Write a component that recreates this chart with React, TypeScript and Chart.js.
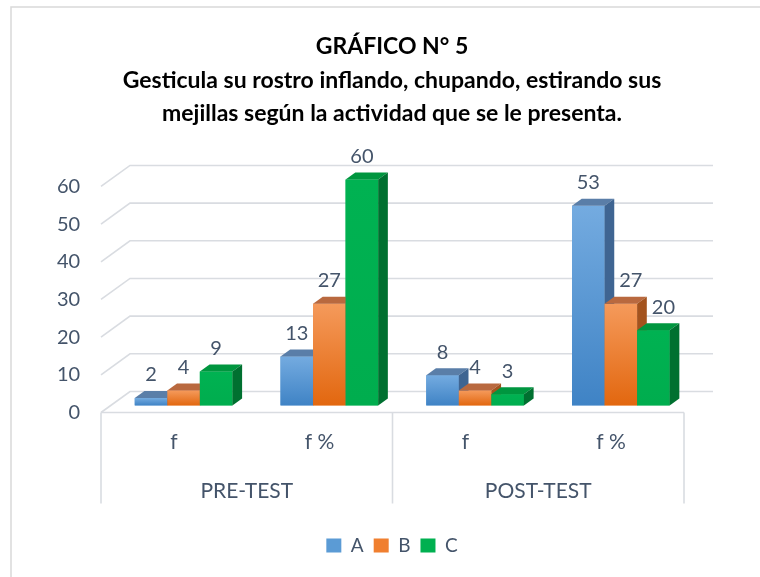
import React, { useEffect, useRef } from 'react';
import { Chart, registerables } from 'chart.js';

Chart.register(...registerables);

const titleLines = [
  'GRÁFICO N° 5',
  'Gesticula su rostro inflando, chupando, estirando sus',
  'mejillas según la actividad que se le presenta.',
];
const categories = ['f', 'f %', 'f', 'f %'];
const groups = ['PRE-TEST', 'POST-TEST'];
const seriesNames = ['A', 'B', 'C'];
const valuesA = [2, 13, 8, 53];
const valuesB = [4, 27, 4, 27];
const valuesC = [9, 60, 3, 20];
const yMin = 0;
const yMax = 60;
const yStep = 10;

const FONT = 'Lato, "Noto Sans", sans-serif';
const TEXT = '#44546A';
const GRID = '#d9dce1';

const palette = [
  { legend: '#5B9BD5', frontTop: '#74abe0', frontBottom: '#3f83c5', top: '#5a7ea8', side: '#3f6592' },
  { legend: '#F07F2F', frontTop: '#f59a5b', frontBottom: '#e2670f', top: '#b9693f', side: '#a3531e' },
  { legend: '#00B050', frontTop: '#00b252', frontBottom: '#00ad4e', top: '#00963f', side: '#007030' },
];

// 3D geometry (pixels) relative to the bar front-face plane
const BAR_DX = 9.7;
const BAR_DY = -7;
const FRONT_DX = -9.7;
const FRONT_DY = 7;
const BACK_DX = 19.3;
const BACK_DY = -14;

const threeD = {
  id: 'threeD',
  beforeDraw(chart: any) {
    const ctx = chart.ctx;
    ctx.save();
    ctx.fillStyle = '#ffffff';
    ctx.fillRect(0, 0, chart.width, chart.height);
    ctx.strokeStyle = '#d9d9d9';
    ctx.lineWidth = 1.5;
    ctx.strokeRect(11, 7, chart.width + 20, chart.height + 20);
    ctx.restore();
  },
  beforeDatasetsDraw(chart: any) {
    const ctx = chart.ctx;
    const y = chart.scales.y;
    const area = chart.chartArea;
    ctx.save();
    ctx.strokeStyle = GRID;
    ctx.lineWidth = 1.6;
    y.ticks.forEach((t: any) => {
      const py = y.getPixelForValue(t.value);
      ctx.beginPath();
      ctx.moveTo(area.left + FRONT_DX, py + FRONT_DY);
      ctx.lineTo(area.left + BACK_DX, py + BACK_DY);
      ctx.lineTo(area.right + BACK_DX, py + BACK_DY);
      ctx.stroke();
    });
    // floor front edge and category box
    const y0 = y.getPixelForValue(0) + FRONT_DY;
    const left = area.left + FRONT_DX;
    const right = area.right + FRONT_DX;
    const mid = (left + right) / 2;
    const boxBottom = chart.scales.x2.top + 38;
    ctx.beginPath();
    ctx.moveTo(left, y0);
    ctx.lineTo(right, y0);
    [left, mid, right].forEach((px) => {
      ctx.moveTo(px, y0);
      ctx.lineTo(px, boxBottom);
    });
    ctx.stroke();
    ctx.restore();
  },
  afterDatasetsDraw(chart: any) {
    const ctx = chart.ctx;
    const n = chart.data.labels.length;
    ctx.save();
    for (let j = 0; j < n; j++) {
      chart.data.datasets.forEach((ds: any, i: number) => {
        const el = chart.getDatasetMeta(i).data[j];
        const { x, y, base, width } = el.getProps(['x', 'y', 'base', 'width'], true);
        const l = x - width / 2;
        const r = x + width / 2;
        const c = palette[i];
        const g = ctx.createLinearGradient(0, y, 0, base);
        g.addColorStop(0, c.frontTop);
        g.addColorStop(1, c.frontBottom);
        ctx.fillStyle = g;
        ctx.fillRect(l, y, r - l, base - y);
        ctx.fillStyle = c.top;
        ctx.beginPath();
        ctx.moveTo(l, y);
        ctx.lineTo(r, y);
        ctx.lineTo(r + BAR_DX, y + BAR_DY);
        ctx.lineTo(l + BAR_DX, y + BAR_DY);
        ctx.closePath();
        ctx.fill();
        ctx.fillStyle = c.side;
        ctx.beginPath();
        ctx.moveTo(r, y);
        ctx.lineTo(r + BAR_DX, y + BAR_DY);
        ctx.lineTo(r + BAR_DX, base + BAR_DY);
        ctx.lineTo(r, base);
        ctx.closePath();
        ctx.fill();
      });
    }
    // value labels (nudged right when they sit beside a taller bar on their left)
    ctx.fillStyle = TEXT;
    ctx.font = `20px ${FONT}`;
    ctx.textAlign = 'center';
    ctx.textBaseline = 'middle';
    chart.data.datasets.forEach((ds: any, i: number) => {
      const meta = chart.getDatasetMeta(i);
      meta.data.forEach((el: any, j: number) => {
        const { x, y } = el.getProps(['x', 'y'], true);
        const text = String(ds.data[j]);
        const half = ctx.measureText(text).width / 2;
        let lx = x;
        const ly = y - 23;
        if (i > 0) {
          const prev = chart.getDatasetMeta(i - 1).data[j].getProps(['x', 'y', 'width'], true);
          if (prev.y + BAR_DY < ly) {
            const minLeft = prev.x + prev.width / 2 + BAR_DX + 5;
            if (lx - half < minLeft) lx = minLeft + half;
          }
        }
        ctx.fillText(text, lx, ly);
      });
    });
    ctx.restore();
  },
};

export default function App() {
  const ref = useRef<HTMLCanvasElement>(null);
  useEffect(() => {
    document.body.style.margin = '0';
    const canvas = ref.current;
    if (!canvas) return;
    const seriesValues = [valuesA, valuesB, valuesC];
    const chart = new Chart(canvas, {
      type: 'bar',
      data: {
        labels: categories,
        datasets: seriesNames.map((name, i) => ({
          label: name,
          data: seriesValues[i],
          backgroundColor: palette[i].legend,
          borderWidth: 0,
          barPercentage: 1,
          categoryPercentage: 0.67,
          xAxisID: 'x',
          yAxisID: 'y',
        })),
      },
      options: {
        responsive: false,
        animation: false,
        devicePixelRatio: 1,
        layout: { padding: { left: 90.3, right: 66.3, top: 0, bottom: 12 } },
        plugins: {
          title: {
            display: true,
            text: titleLines,
            color: '#000000',
            font: { family: FONT, size: 23, weight: 'bold', lineHeight: 1.457 },
            padding: { top: 30.25, bottom: 48.65 },
          },
          legend: {
            position: 'bottom',
            labels: {
              boxWidth: 15,
              boxHeight: 14,
              padding: 10,
              color: TEXT,
              font: { family: FONT, size: 19 },
            },
          },
          tooltip: { enabled: false },
        },
        scales: {
          x: {
            type: 'category',
            position: 'bottom',
            grid: { display: false, drawTicks: false },
            border: { display: false },
            ticks: { color: TEXT, font: { family: FONT, size: 21 }, padding: 24.4, labelOffset: -9.7 },
            afterFit: (s: any) => { s.height = 60; },
          },
          x2: {
            type: 'category',
            position: 'bottom',
            labels: groups,
            offset: true,
            grid: { display: false, drawTicks: false },
            border: { display: false },
            ticks: { color: TEXT, font: { family: FONT, size: 21 }, padding: 13.4, labelOffset: -9.7 },
            afterFit: (s: any) => { s.height = 60.5; },
          },
          y: {
            type: 'linear',
            min: yMin,
            max: yMax,
            grid: { display: false, drawTicks: false },
            border: { display: false },
            ticks: {
              stepSize: yStep,
              color: TEXT,
              font: { family: FONT, size: 20 },
              mirror: true,
              crossAlign: 'far',
              padding: -53.7,
              labelOffset: 7,
            },
            afterFit: (s: any) => { s.width = 20.4; },
          },
        },
      },
      plugins: [threeD],
    } as any);
    return () => chart.destroy();
  }, []);
  return (
    <div style={{ width: 760, height: 577 }}>
      <canvas ref={ref} width={760} height={577} />
    </div>
  );
}
